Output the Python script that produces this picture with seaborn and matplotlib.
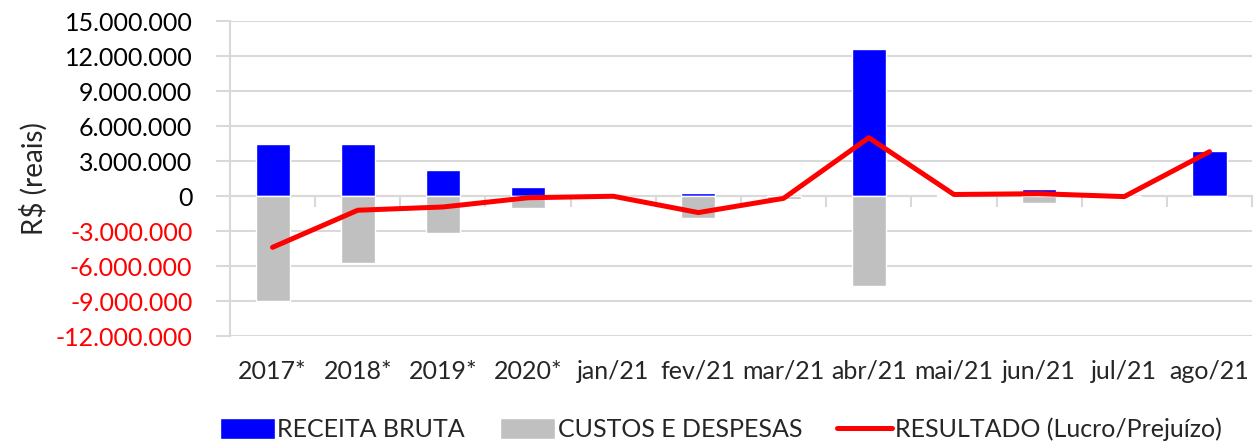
import matplotlib
matplotlib.use("Agg")
import matplotlib.pyplot as plt
import numpy as np
import pandas as pd
import seaborn as sns
from matplotlib.ticker import FuncFormatter, FixedLocator
from matplotlib.patches import Patch
from matplotlib.lines import Line2D

# values (R$)
periodos = ["2017*", "2018*", "2019*", "2020*", "jan/21", "fev/21",
            "mar/21", "abr/21", "mai/21", "jun/21", "jul/21", "ago/21"]
receita = [4500000, 4420000, 2200000, 740000, 0, 250000,
           0, 12600000, 100000, 630000, 0, 3850000]
custos = [-9000000, -5700000, -3200000, -1000000, 0, -1850000,
          -280000, -7700000, 0, -600000, 0, 0]
resultado = [-4400000, -1220000, -940000, -150000, -20000, -1420000,
             -200000, 5000000, 130000, 200000, -50000, 3800000]
y_ticks = [15000000, 12000000, 9000000, 6000000, 3000000, 0,
           -3000000, -6000000, -9000000, -12000000]

df = pd.DataFrame({"periodo": periodos, "receita": receita,
                   "custos": custos, "resultado": resultado})

sns.set_theme(style="white")
plt.rcParams["font.family"] = ["Lato", "DejaVu Sans"]

fig = plt.figure(figsize=(12.6, 4.44), dpi=100)
ax = fig.add_axes([0.1825, 0.2432, 0.8112, 0.7095])

azul, cinza, vermelho = "#0000ff", "#c0c0c0", "#ff0000"
grade = "#d9d9d9"

sns.barplot(data=df, x="periodo", y="receita", order=periodos,
            color=azul, saturation=1, width=0.4, ax=ax, zorder=2)
sns.barplot(data=df, x="periodo", y="custos", order=periodos,
            color=cinza, saturation=1, width=0.4, ax=ax, zorder=2)
sns.lineplot(x=np.arange(len(periodos)), y=df["resultado"], color=vermelho,
             lw=3.6, ax=ax, zorder=4, sort=False)

ax.set_xlim(-0.5, len(periodos) - 0.5)
ax.set_ylim(min(y_ticks), max(y_ticks))
ax.yaxis.set_major_locator(FixedLocator(y_ticks))
ax.yaxis.set_major_formatter(FuncFormatter(
    lambda v, p: f"{int(v):,}".replace(",", ".")))
ax.grid(axis="y", color=grade, lw=1.5, zorder=0)
ax.set_axisbelow(True)

for s in ["top", "right", "bottom"]:
    ax.spines[s].set_visible(False)
ax.spines["left"].set_color(grade)
ax.spines["left"].set_linewidth(1.5)

ax.tick_params(axis="y", length=10, width=1.5, color=grade,
               labelsize=18, pad=17, left=True)
ax.tick_params(axis="x", length=0, labelsize=18, pad=17)
ax.set_xlabel("")
ax.set_ylabel("R$ (reais)", fontsize=20, labelpad=6)

for lbl, v in zip(ax.get_yticklabels(), ax.get_yticks()):
    lbl.set_color(vermelho if v < 0 else "black")

# zero axis with category separator ticks
lim = ax.get_ylim()
sec = ax.secondary_xaxis((0 - lim[0]) / (lim[1] - lim[0]))
sec.set_xticks(np.arange(len(periodos) + 1) - 0.5)
sec.tick_params(axis="x", length=8, width=1.5, color=grade,
                labelbottom=False, direction="out")
sec.spines["bottom"].set_color(grade)
sec.spines["bottom"].set_linewidth(1.5)
for s in ["top", "left", "right"]:
    sec.spines[s].set_visible(False)

handles = [Patch(facecolor=azul, label="RECEITA BRUTA"),
           Patch(facecolor=cinza, label="CUSTOS E DESPESAS"),
           Line2D([], [], color=vermelho, lw=3.6,
                  label="RESULTADO (Lucro/Prejuízo)")]
fig.legend(handles=handles, loc="lower center", bbox_to_anchor=(0.572, -0.045),
           ncol=3, frameon=False, fontsize=18, handlelength=2.2,
           handleheight=0.9, handletextpad=0.1, columnspacing=1.4)

fig.savefig("out.png", dpi=100)
